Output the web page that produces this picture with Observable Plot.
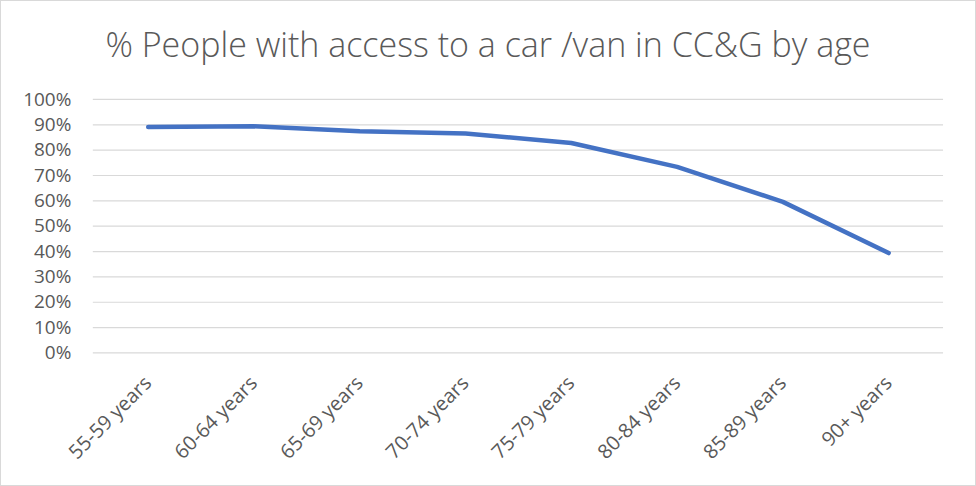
<!DOCTYPE html>
<html><head><meta charset="utf-8">
<script src="https://cdn.jsdelivr.net/npm/d3@7"></script>
<script src="https://cdn.jsdelivr.net/npm/@observablehq/plot@0.6"></script>
<style>
body{margin:0;background:#fff;}
#chart{position:relative;width:976px;height:486px;box-sizing:border-box;border:1px solid #d9d9d9;background:#fff;overflow:hidden;}
#title{position:absolute;left:0;top:23px;width:100%;text-align:center;font-family:"Open Sans";font-weight:300;font-size:34px;color:#595959;line-height:1.2;white-space:nowrap;}
#chart svg{position:absolute;left:-1px;top:79px;}
</style></head>
<body><div id="chart"><div id="title">% People with access to a car /van in CC&amp;G by age</div></div>
<script>
const ageGroups = ["55-59 years","60-64 years","65-69 years","70-74 years","75-79 years","80-84 years","85-89 years","90+ years"];
const accessPct = [89.1, 89.4, 87.5, 86.6, 82.8, 73.4, 59.6, 39.4];
const yTicks = [0,10,20,30,40,50,60,70,80,90,100];

const data = ageGroups.map((age, i) => ({age, pct: accessPct[i]}));

const plot = Plot.plot({
  width: 976,
  height: 406,
  marginTop: 19,
  marginBottom: 133,
  marginLeft: 93,
  marginRight: 31,
  style: {fontFamily: "Open Sans", fontSize: "19px", color: "#595959", background: "transparent", overflow: "visible"},
  x: {type: "point", domain: ageGroups, padding: 0.5, label: null},
  y: {domain: [0, 100], label: null},
  marks: [
    Plot.gridY(yTicks, {stroke: "#d9d9d9", strokeOpacity: 1, strokeWidth: 1.2}),
    Plot.axisY(yTicks, {tickSize: 0, tickPadding: 22, tickFormat: d => d + "%", label: null, fill: "#595959", fontSize: 19}),
    Plot.axisX({tickSize: 0, tickRotate: -45, tickPadding: 27, label: null, fill: "#595959", fontSize: 20}),
    Plot.line(data, {x: "age", y: "pct", stroke: "#4472C4", strokeWidth: 4.5, strokeLinecap: "round", strokeLinejoin: "round"})
  ]
});
document.getElementById("chart").appendChild(plot);
</script>
</body></html>
